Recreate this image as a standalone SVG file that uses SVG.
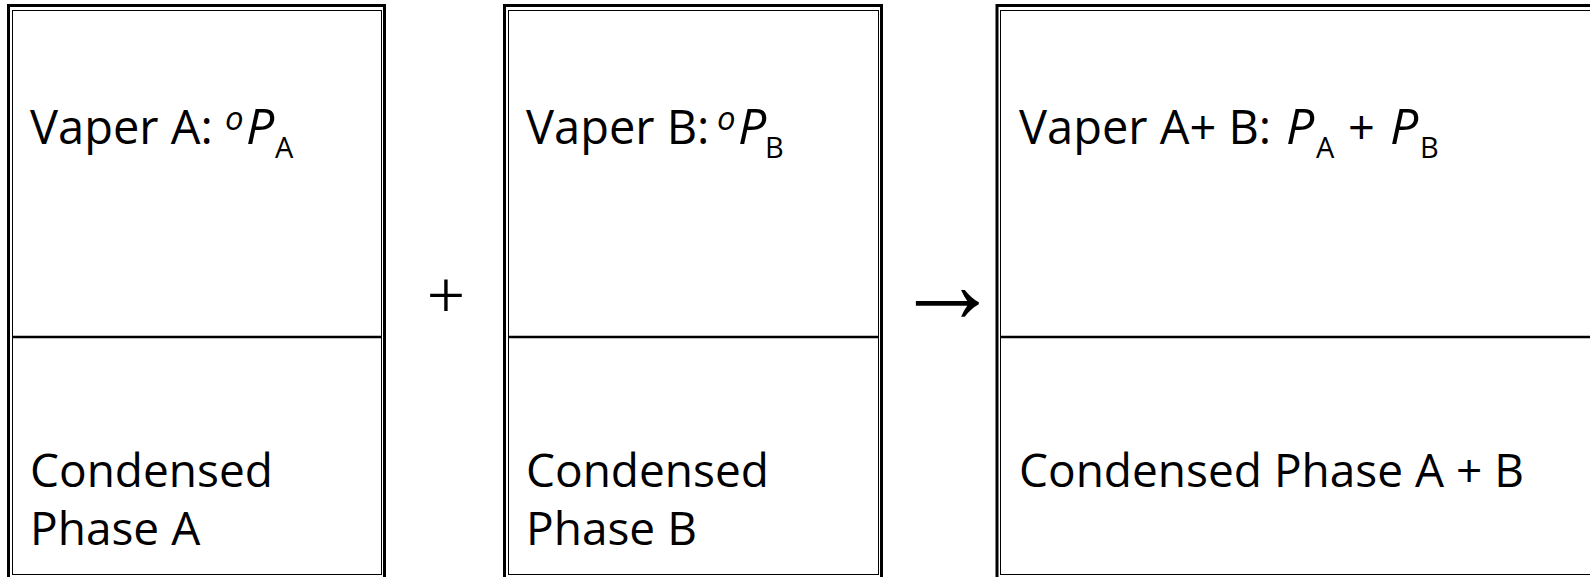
<svg xmlns="http://www.w3.org/2000/svg" width="1590" height="577" viewBox="0 0 1590 577">
  <style>
    .outer { fill: none; stroke: #000; stroke-width: 3; }
    .inner { fill: none; stroke: #000; stroke-width: 1; }
    .divider { stroke: #000; stroke-width: 2.5; }
    .lbl { font-family: "Open Sans", "Noto Sans", sans-serif; font-size: 47px; fill: #000; }
    .low { font-size: 46px; }
    .pv { font-family: "Open Sans", "Noto Sans", sans-serif; font-size: 50px; font-style: italic; fill: #000; }
    .sup { font-family: "Open Sans", "Noto Sans", sans-serif; font-size: 33px; font-style: italic; fill: #000; }
    .sub { font-family: "Open Sans", "Noto Sans", sans-serif; font-size: 29px; fill: #000; }
    .op { font-family: "Liberation Serif", "DejaVu Serif", serif; fill: #000; }
  </style>
  <rect width="1590" height="577" fill="#fff"/>

  <!-- pure component A -->
  <g id="box-a">
    <rect class="outer" x="8.5" y="5.5" width="376" height="600"/>
    <rect class="inner" x="12.5" y="10.5" width="369" height="564"/>
    <line class="divider" x1="12.5" y1="337" x2="381.5" y2="337"/>
    <text class="lbl" x="30" y="144">Vaper A:</text>
    <text class="sup" x="225" y="130">o</text>
    <text class="pv" x="246" y="144">P</text>
    <text class="sub" x="275" y="158">A</text>
    <text class="lbl low" x="30" y="487">Condensed</text>
    <text class="lbl low" x="30" y="545">Phase A</text>
  </g>

  <!-- pure component B -->
  <g id="box-b">
    <rect class="outer" x="504.5" y="5.5" width="377" height="600"/>
    <rect class="inner" x="508.5" y="10.5" width="370" height="564"/>
    <line class="divider" x1="508.5" y1="337" x2="878.5" y2="337"/>
    <text class="lbl" x="526" y="144">Vaper B:</text>
    <text class="sup" x="717" y="130">o</text>
    <text class="pv" x="738" y="144">P</text>
    <text class="sub" x="765" y="158">B</text>
    <text class="lbl low" x="526" y="487">Condensed</text>
    <text class="lbl low" x="526" y="545">Phase B</text>
  </g>

  <!-- mixture A + B -->
  <g id="box-ab">
    <rect class="outer" x="997" y="5.5" width="700" height="600"/>
    <rect class="inner" x="1000.5" y="10.5" width="700" height="564"/>
    <line class="divider" x1="1000.5" y1="337" x2="1590" y2="337"/>
    <text class="lbl" x="1019" y="144">Vaper A+ B:</text>
    <text class="pv" x="1286" y="144">P</text>
    <text class="sub" x="1316" y="158">A</text>
    <text class="lbl" x="1348" y="144">+</text>
    <text class="pv" x="1390" y="144">P</text>
    <text class="sub" x="1420" y="158">B</text>
    <text class="lbl low" x="1019" y="487">Condensed Phase A + B</text>
  </g>

  <!-- operators between the boxes -->
  <g id="connectors">
    <text class="op" x="446" y="318" font-size="68" text-anchor="middle">+</text>
    <text class="op" transform="translate(894,322) scale(1.4,1.5)" x="0" y="0" font-size="76" font-weight="bold">→</text>
  </g>
</svg>
